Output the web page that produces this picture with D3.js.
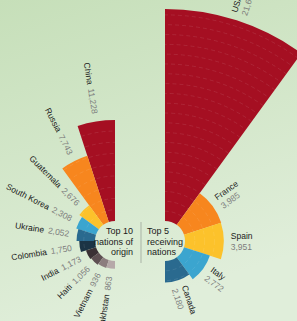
<!DOCTYPE html>
<html>
<head>
<meta charset="utf-8">
<script src="https://cdn.jsdelivr.net/npm/d3@7"></script>
<style>
  html, body { margin: 0; padding: 0; overflow: hidden; }
  svg { display: block; font-family: "Liberation Sans", Arial, sans-serif; }
</style>
</head>
<body>
<div id="chart"></div>
<script>
var width = 297, height = 321;

// top 10 nations of origin
var originNames = ["China", "Russia", "Guatemala", "South Korea", "Ukraine", "Colombia", "India", "Haiti", "Vietnam", "Kazakhstan"];
var originValues = [11228, 7743, 2676, 2308, 2052, 1750, 1173, 1056, 936, 863];
var originColors = ["#a50f22", "#f7861e", "#fcc22b", "#3ba5cf", "#2a6a8f", "#1b3445", "#3a3134", "#5e5052", "#8c7d7e", "#b6a9a9"];

// top 5 receiving nations
var destNames = ["USA", "France", "Spain", "Italy", "Canada"];
var destValues = [21600, 3985, 3951, 2772, 2180];
var destColors = ["#a50f22", "#f7861e", "#fcc22b", "#3ba5cf", "#2a6a8f"];

var centerLeft = ["Top 10", "nations of", "origin"];
var centerRight = ["Top 5", "receiving", "nations"];

var fmt = d3.format(",");

var svg = d3.select("#chart").append("svg")
  .attr("width", width)
  .attr("height", height);

var defs = svg.append("defs");
var grad = defs.append("linearGradient")
  .attr("id", "bg")
  .attr("x1", 0).attr("y1", 0).attr("x2", 0.3).attr("y2", 1);
grad.append("stop").attr("offset", "0%").attr("stop-color", "#c6dfb9");
grad.append("stop").attr("offset", "100%").attr("stop-color", "#e0eeda");

svg.append("rect")
  .attr("width", width)
  .attr("height", height)
  .attr("fill", "url(#bg)");

function drawHalf(opts) {
  var n = opts.values.length;
  var step = Math.PI / n;
  var r = d3.scaleLinear()
    .domain([0, d3.max(opts.values)])
    .range([20, opts.maxR]);

  var data = opts.values.map(function(v, i) {
    return {
      name: opts.names[i],
      value: v,
      color: opts.colors[i],
      startAngle: opts.dir * i * step,
      endAngle: opts.dir * (i + 1) * step
    };
  });

  var arc = d3.arc()
    .innerRadius(20)
    .outerRadius(function(d) { return r(d.value); });

  var g = svg.append("g")
    .attr("transform", "translate(" + opts.cx + "," + opts.cy + ")");

  g.selectAll(".wedge")
    .data(data)
    .enter().append("path")
    .attr("class", "wedge")
    .attr("d", arc)
    .attr("fill", function(d) { return d.color; });

  // faint dashed rings inside the wedges
  var clip = defs.append("clipPath").attr("id", opts.id + "-clip");
  clip.selectAll("path")
    .data(data)
    .enter().append("path")
    .attr("d", arc);

  g.append("g")
    .attr("clip-path", "url(#" + opts.id + "-clip)")
    .selectAll("circle")
    .data(d3.range(opts.gridStep, d3.max(opts.values), opts.gridStep))
    .enter().append("circle")
    .attr("r", function(d) { return r(d); })
    .attr("fill", "none")
    .attr("stroke", "#ffffff")
    .attr("stroke-opacity", 0.12)
    .attr("stroke-width", 0.8)
    .attr("stroke-dasharray", "4,3");

  // labels
  data.forEach(function(d) {
    var a = (d.startAngle + d.endAngle) / 2;
    var rr = r(d.value) + opts.gap;
    var x = Math.sin(a) * rr, y = -Math.cos(a) * rr;
    var rot;
    if (opts.dir < 0) {
      rot = Math.atan2(Math.cos(a), -Math.sin(a)) * 180 / Math.PI;
      var t = g.append("text")
        .attr("transform", "translate(" + x + "," + y + ") rotate(" + rot + ")")
        .attr("text-anchor", "end")
        .attr("dy", "0.35em")
        .attr("font-size", 8.5);
      t.append("tspan").attr("fill", "#1a1a1a").text(d.name);
      t.append("tspan").attr("fill", "#7d7d7d").attr("dx", 4).text(fmt(d.value));
    } else {
      rot = Math.atan2(-Math.cos(a), Math.sin(a)) * 180 / Math.PI;
      var lg = g.append("g")
        .attr("transform", "translate(" + x + "," + y + ") rotate(" + rot + ")");
      lg.append("text")
        .attr("y", -2)
        .attr("font-size", 8.5)
        .attr("fill", "#1a1a1a")
        .text(d.name);
      lg.append("text")
        .attr("y", 8.5)
        .attr("font-size", 8.5)
        .attr("fill", "#7d7d7d")
        .text(fmt(d.value));
    }
  });
}

drawHalf({ id: "origin", names: originNames, values: originValues, colors: originColors,
  cx: 115, cy: 241, maxR: 121, dir: -1, gap: 8, gridStep: 1250 });
drawHalf({ id: "dest", names: destNames, values: destValues, colors: destColors,
  cx: 165, cy: 241, maxR: 232, dir: 1, gap: 7, gridStep: 1000 });

// centre captions
svg.append("line")
  .attr("x1", 141).attr("x2", 141)
  .attr("y1", 222).attr("y2", 263)
  .attr("stroke", "#a9b3a6")
  .attr("stroke-width", 1);

svg.append("g").selectAll("text")
  .data(centerLeft)
  .enter().append("text")
  .attr("x", 133)
  .attr("y", function(d, i) { return 234 + i * 10.5; })
  .attr("text-anchor", "end")
  .attr("font-size", 9)
  .attr("fill", "#1a1a1a")
  .text(function(d) { return d; });

svg.append("g").selectAll("text")
  .data(centerRight)
  .enter().append("text")
  .attr("x", 147)
  .attr("y", function(d, i) { return 234 + i * 10.5; })
  .attr("font-size", 9)
  .attr("fill", "#1a1a1a")
  .text(function(d) { return d; });
</script>
</body>
</html>
